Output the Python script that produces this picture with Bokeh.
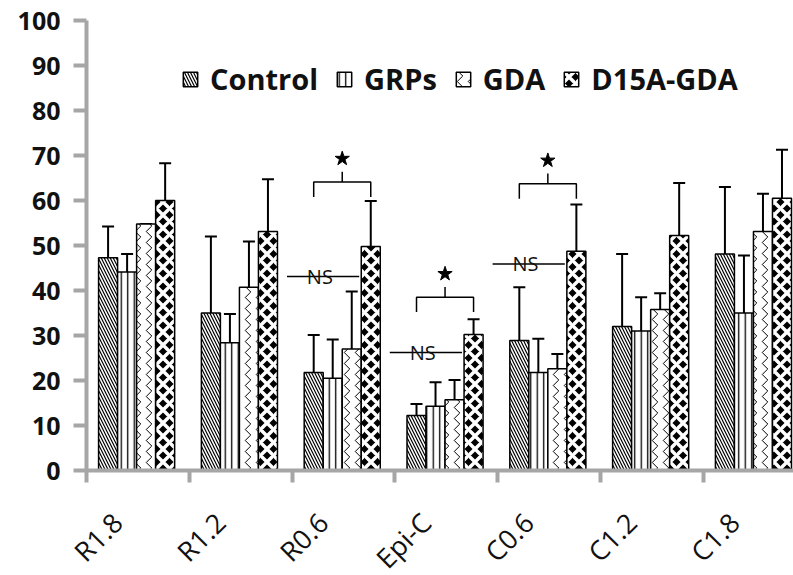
from bokeh.plotting import figure
from bokeh.layouts import column
from bokeh.models import (Range1d, FixedTicker, Whisker, TeeHead, ColumnDataSource,
                          Legend, LegendItem)
from bokeh.embed import file_html
from bokeh.resources import INLINE
from bokeh.core.properties import value

categories = ["R1.8", "R1.2", "R0.6", "Epi-C", "C0.6", "C1.2", "C1.8"]
series = ["Control", "GRPs", "GDA", "D15A-GDA"]

control = [47.3, 35.0, 21.8, 12.2, 28.9, 32.0, 48.1]
control_err = [6.9, 17.0, 8.3, 2.6, 11.8, 16.1, 14.9]
grps = [44.1, 28.4, 20.5, 14.3, 21.8, 31.0, 35.0]
grps_err = [4.0, 6.4, 8.6, 5.3, 7.5, 7.5, 12.8]
gda = [54.8, 40.7, 27.0, 15.7, 22.6, 35.8, 53.1]
gda_err = [0.0, 10.2, 12.8, 4.4, 3.3, 3.6, 8.4]
d15a = [60.0, 53.1, 49.8, 30.2, 48.7, 52.2, 60.5]
d15a_err = [8.3, 11.6, 10.1, 3.4, 10.4, 11.7, 10.8]

# significance annotations (group index, bracket level, NS level)
sig_groups = [2, 3, 4]
bracket_levels = [64.1, 38.5, 63.7]
ns_levels = [43.1, 26.2, 45.9]

y_ticks = list(range(0, 101, 10))

FONT = "Open Sans"
GRAY = "#a6a6a6"
TXT = "#111111"

W = 793
H1 = 492
H2 = 83
LEFT = 86
XMAX = 6.877

p = figure(width=W, height=H1, output_backend="svg", toolbar_location=None,
           x_range=Range1d(0, XMAX), y_range=Range1d(0, 100),
           min_border_left=LEFT, min_border_top=20, min_border_bottom=22, min_border_right=0)
p.outline_line_color = None
p.xgrid.visible = False
p.ygrid.visible = False

offsets = [-0.29, -0.105, 0.08, 0.265]
bw = 0.185
vals = [control, grps, gda, d15a]
errs = [control_err, grps_err, gda_err, d15a_err]
styles = [
    dict(fill_color="white", hatch_pattern="left_diagonal_line", hatch_scale=6, hatch_weight=1.2, hatch_color="black"),
    dict(fill_color="white", hatch_pattern="vertical_line", hatch_scale=6.5, hatch_weight=1.3, hatch_color="black"),
    dict(fill_color="white", hatch_pattern="vertical_wave", hatch_scale=11, hatch_weight=1.0, hatch_color="black"),
    dict(fill_color="black", hatch_pattern="diagonal_cross", hatch_scale=13, hatch_weight=3.5, hatch_color="white"),
]

renderers = []
for k in range(4):
    xs = [i + 0.5 + offsets[k] for i in range(len(categories))]
    src = ColumnDataSource(dict(x=xs, top=vals[k],
                                upper=[v + e for v, e in zip(vals[k], errs[k])]))
    r = p.vbar(x="x", top="top", bottom=0, width=bw, source=src,
               line_color="black", line_width=1.5, **styles[k])
    renderers.append(r)
    w = Whisker(base="x", lower="top", upper="upper", source=src,
                line_color="black", line_width=2,
                lower_head=None, upper_head=TeeHead(size=12, line_width=2, line_color="black"))
    p.add_layout(w)

# significance brackets
for g, bl, nl in zip(sig_groups, bracket_levels, ns_levels):
    xl = g + 0.5 + offsets[0]
    xr = g + 0.5 + offsets[3]
    xm = (xl + xr) / 2
    p.line([xl, xl, xr, xr], [bl - 3.3, bl, bl, bl - 3.3], line_color="black", line_width=1.5)
    p.line([xm, xm], [bl, bl + 2.3], line_color="black", line_width=1.5)
    p.scatter([xm], [bl + 5.2], marker="star", size=15, fill_color="black", line_color="black")
    xs0 = g - 0.05
    xs1 = g + 0.5 + offsets[3] - bw / 2 - 0.02
    p.line([xs0, xs1], [nl, nl], line_color="black", line_width=1.5)
    p.text([g + 0.27], [nl], text=["NS"], text_align="center", text_baseline="middle",
           text_font=value(FONT), text_font_size="20px", text_color=TXT)

# x axis: boundary ticks only (labels drawn in the strip below)
xa = p.xaxis[0]
xa.ticker = FixedTicker(ticks=[], minor_ticks=list(range(len(categories) + 1)))
xa.major_label_text_font_size = "0px"
xa.major_label_standoff = 0
xa.major_tick_line_color = None
xa.major_tick_out = 12
xa.major_tick_in = 0
xa.minor_tick_line_color = GRAY
xa.minor_tick_line_width = 4
xa.minor_tick_out = 12
xa.minor_tick_in = 0
xa.axis_line_color = GRAY
xa.axis_line_width = 4

ya = p.yaxis[0]
ya.ticker = FixedTicker(ticks=y_ticks)
ya.minor_tick_line_color = None
ya.major_tick_line_color = GRAY
ya.major_tick_line_width = 4
ya.major_tick_out = 13
ya.major_tick_in = 0
ya.axis_line_color = GRAY
ya.axis_line_width = 4
ya.major_label_text_font = FONT
ya.major_label_text_font_style = "bold"
ya.major_label_text_font_size = "25px"
ya.major_label_text_color = TXT
ya.major_label_standoff = 13

legend = Legend(items=[LegendItem(label=s, renderers=[r]) for s, r in zip(series, renderers)],
                orientation="horizontal", location=(95, 372),
                border_line_color=None, background_fill_alpha=0,
                label_text_font=FONT, label_text_font_style="bold",
                label_text_font_size="29px", label_text_color=TXT,
                glyph_width=18, glyph_height=18, label_standoff=11, spacing=17,
                padding=0, margin=0)
p.add_layout(legend, "center")

# strip with the rotated category labels, on the same x scale
can_unalign = "frame_align" in p.properties()
if can_unalign:
    strip_left = 0
    strip_range = Range1d(-LEFT * XMAX / (W - LEFT), XMAX)
else:
    strip_left = LEFT
    strip_range = p.x_range

p2 = figure(width=W, height=H2, output_backend="svg", toolbar_location=None,
            x_range=strip_range, y_range=Range1d(-H2, 0),
            x_axis_location=None, y_axis_location=None,
            min_border_left=strip_left, min_border_top=0, min_border_bottom=0, min_border_right=0)
if can_unalign:
    p.frame_align = False
    p2.frame_align = False
p2.outline_line_color = None
p2.xgrid.visible = False
p2.ygrid.visible = False
lab_x = [i + 0.30 for i in range(len(categories))]
lab_y = [-25] * len(categories)
p2.text(lab_x, lab_y, text=categories, angle=0.785, text_align="right", text_baseline="middle",
        text_font=value(FONT), text_font_size="27px", text_color=TXT)

layout = column(p, p2, spacing=0)
open("out.html", "w").write(file_html(layout, INLINE))
